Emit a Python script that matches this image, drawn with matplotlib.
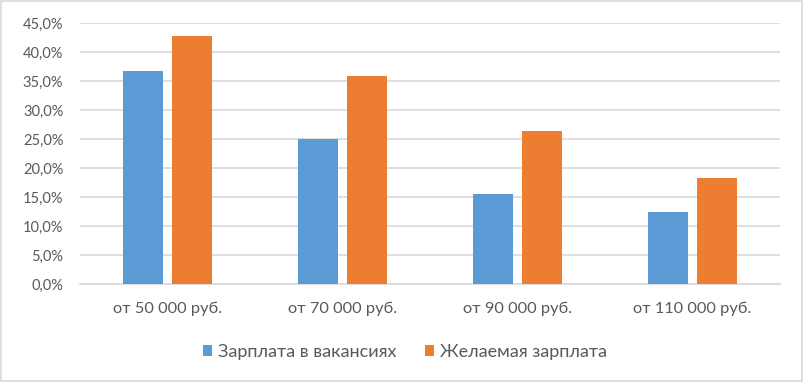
import numpy as np
import matplotlib.pyplot as plt
from matplotlib.ticker import FuncFormatter
from matplotlib.patches import Rectangle

categories = ["от 50 000 руб.", "от 70 000 руб.", "от 90 000 руб.", "от 110 000 руб."]
vacancies = [36.8, 25.0, 15.5, 12.4]
desired = [42.8, 35.9, 26.3, 18.3]
series_names = ["Зарплата в вакансиях", "Желаемая зарплата"]

plt.rcParams['font.family'] = ['Lato', 'DejaVu Sans']
gray = "#595959"

fig = plt.figure(figsize=(8.04, 3.82), dpi=100)
ax = fig.add_axes([80/804, 1-284/382, 700/804, 261/382])

x = np.arange(len(categories))
w = 0.225
ax.bar(x-0.14, vacancies, w, color="#5b9bd5", label=series_names[0], zorder=3)
ax.bar(x+0.14, desired, w, color="#ed7d31", label=series_names[1], zorder=3)

ax.set_xlim(-0.5, len(categories)-0.5)
ax.set_ylim(0, 45)
ax.set_yticks(np.arange(0, 46, 5))
ax.yaxis.set_major_formatter(FuncFormatter(lambda v, p: ("%.1f%%" % v).replace(".", ",")))
ax.grid(axis="y", color="#d9d9d9", lw=1.2, zorder=0)
ax.set_xticks(x)
ax.set_xticklabels(categories)
for s in ["top", "right", "left"]:
    ax.spines[s].set_visible(False)
ax.spines["bottom"].set_color("#d9d9d9")
ax.spines["bottom"].set_linewidth(1.2)
ax.tick_params(axis="y", length=0, labelsize=10.5, colors=gray, pad=12)
ax.tick_params(axis="x", length=0, labelsize=11.8, colors=gray, pad=13)

leg = fig.legend(loc="center", bbox_to_anchor=(405/804, 1-352/382), ncol=2, frameon=False,
                 fontsize=13, handlelength=0.5, handleheight=0.5, handletextpad=0.3, columnspacing=1.6)
for t in leg.get_texts():
    t.set_color(gray)

fig.patches.append(Rectangle((0.001, 0.002), 0.997, 0.995, transform=fig.transFigure,
                             fill=False, edgecolor="#d9d9d9", lw=1.2))
fig.savefig("out.png", dpi=100)
